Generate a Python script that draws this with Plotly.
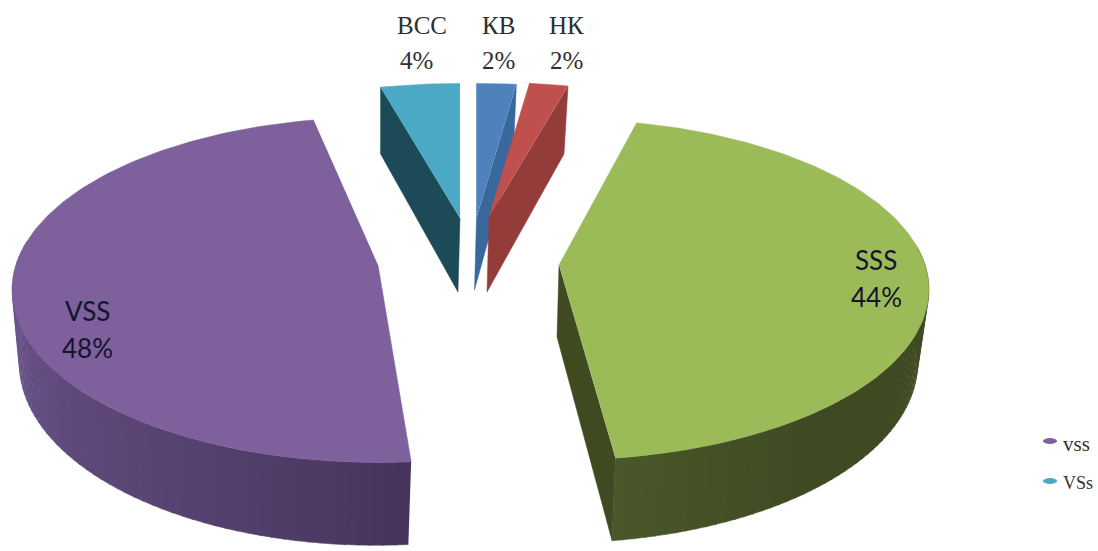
import numpy as np
import plotly.graph_objects as go

# ---- data
categories = ["ВСС", "КВ", "НК", "SSS", "VSS"]
shares = [4, 2, 2, 44, 48]
legend_names = ["vss", "VSs"]

# ---- drawing style (pixel-like axis units, one per slice, in category order)
start_deg = [345.6, 0.0, 7.2, 14.0, 175.5]
cx_top = [460, 476.5, 489, 559, 378]
cy_top = [218, 218, 217, 265, 265]
rx_top = [364, 364, 362, 366, 362]
ry_top = [154, 154, 154, 167, 169]
depth = [74, 72, 75, 72, 72]
top_col = ["#4ba9c6", "#4f81bd", "#c0504d", "#9bbb59", "#7d609c"]
face_col = ["#1c4a57", "#3a689c", "#933c3a", "#3f4a20", "#46345a"]
wall_near = [None, None, None, "#495729", "#46345a"]
wall_far = [None, None, None, "#3f4a22", "#6f5791"]
wall_limit = [None, None, None, 84, 278]
face_side = ["start", "end", "end", "end", None]
K = 0.144
RX_B, RY_B = 0.975, 1.055


def proj(theta, i, bottom=False):
    t = np.radians(theta)
    w = 1 + K * np.cos(t)
    sx, sy = (RX_B, RY_B) if bottom else (1.0, 1.0)
    dy = depth[i] if bottom else 0
    dx = -2 if bottom else 0
    return (cx_top[i] + dx + sx * rx_top[i] * np.sin(t) / w,
            cy_top[i] + dy - sy * ry_top[i] * np.cos(t) / w)


def hex_mix(a, b, f):
    ca = [int(a[j:j + 2], 16) for j in (1, 3, 5)]
    cb = [int(b[j:j + 2], 16) for j in (1, 3, 5)]
    return "rgb(%d,%d,%d)" % tuple(round(x + (y - x) * f) for x, y in zip(ca, cb))


def poly(fig, xs, ys, col):
    fig.add_trace(go.Scatter(x=list(xs), y=list(ys), mode="lines", fill="toself",
                             fillcolor=col, line=dict(color=col, width=0.5),
                             hoverinfo="skip", showlegend=False))


fig = go.Figure()

for i in range(len(categories)):
    a0 = start_deg[i]
    a1 = a0 + shares[i] * 3.6
    th = np.linspace(a0, a1, 160)
    # outer wall, in shaded bands running from the cut edge to the silhouette
    if wall_near[i]:
        cut = a1 if wall_limit[i] < a0 + 90 else a0
        bands = np.linspace(cut, wall_limit[i], 60)
        step = bands[1] - bands[0]
        for b in range(len(bands) - 1):
            seg = np.linspace(bands[b], bands[b + 1] + 0.2 * np.sign(step), 6)
            xt, yt = proj(seg, i)
            xb, yb = proj(seg[::-1], i, True)
            f = b / (len(bands) - 2)
            poly(fig, np.r_[xt, xb], np.r_[yt, yb],
                 hex_mix(wall_near[i], wall_far[i], f ** 0.8 if i == 4 else min(1, f * 3)))
    # cut face
    if face_side[i]:
        a = a0 if face_side[i] == "start" else a1
        x_end, y_end = proj(a, i)
        x_endb, y_endb = proj(a, i, True)
        x_c, y_c = cx_top[i], cy_top[i]
        x_cb, y_cb = cx_top[i] - 2, cy_top[i] + depth[i]
        poly(fig, [x_end, x_endb, x_cb, x_c], [y_end, y_endb, y_cb, y_c], face_col[i])
    # top
    xt, yt = proj(th, i)
    poly(fig, np.r_[cx_top[i], xt], np.r_[cy_top[i], yt], top_col[i])

label_pos = [(422, 25, 416, 60), (498, 25, 498, 60), (566, 25, 566, 60),
             (876, 260, 876, 297), (87, 311, 87, 348)]
for i, (cat, val) in enumerate(zip(categories, shares)):
    small = i < 3
    font = dict(family="Liberation Serif", size=25, color="#2e2e2e") if small else \
        dict(family="Lato", size=26, color="#14142e")
    x1, y1, x2, y2 = label_pos[i]
    fig.add_annotation(x=x1, y=y1, text=cat, showarrow=False, font=font)
    fig.add_annotation(x=x2, y=y2, text=f"{val}%", showarrow=False, font=font)

# legend keys and names
legend_y = [444, 483]
key_y = [441, 481]
legend_col = [top_col[4], top_col[0]]
legend_size = [21, 18]
for name, y, ky, col, size in zip(legend_names, legend_y, key_y, legend_col, legend_size):
    fig.add_shape(type="circle", xref="x", yref="y", x0=1043, x1=1057, y0=ky - 3, y1=ky + 3,
                  fillcolor=col, line=dict(width=0))
    fig.add_annotation(x=1061, y=y, text=name, showarrow=False, xanchor="left",
                       font=dict(family="Liberation Serif", size=size, color="#333333"))

fig.update_layout(
    width=1098, height=551, margin=dict(l=0, r=0, t=0, b=0), showlegend=False,
    paper_bgcolor="white", plot_bgcolor="white",
    xaxis=dict(range=[0, 1098], visible=False, fixedrange=True),
    yaxis=dict(range=[551, 0], visible=False, fixedrange=True),
)
fig.write_html("out.html", config={"displayModeBar": False},
               post_script="document.body.style.margin='0';document.body.style.overflow='hidden';")
